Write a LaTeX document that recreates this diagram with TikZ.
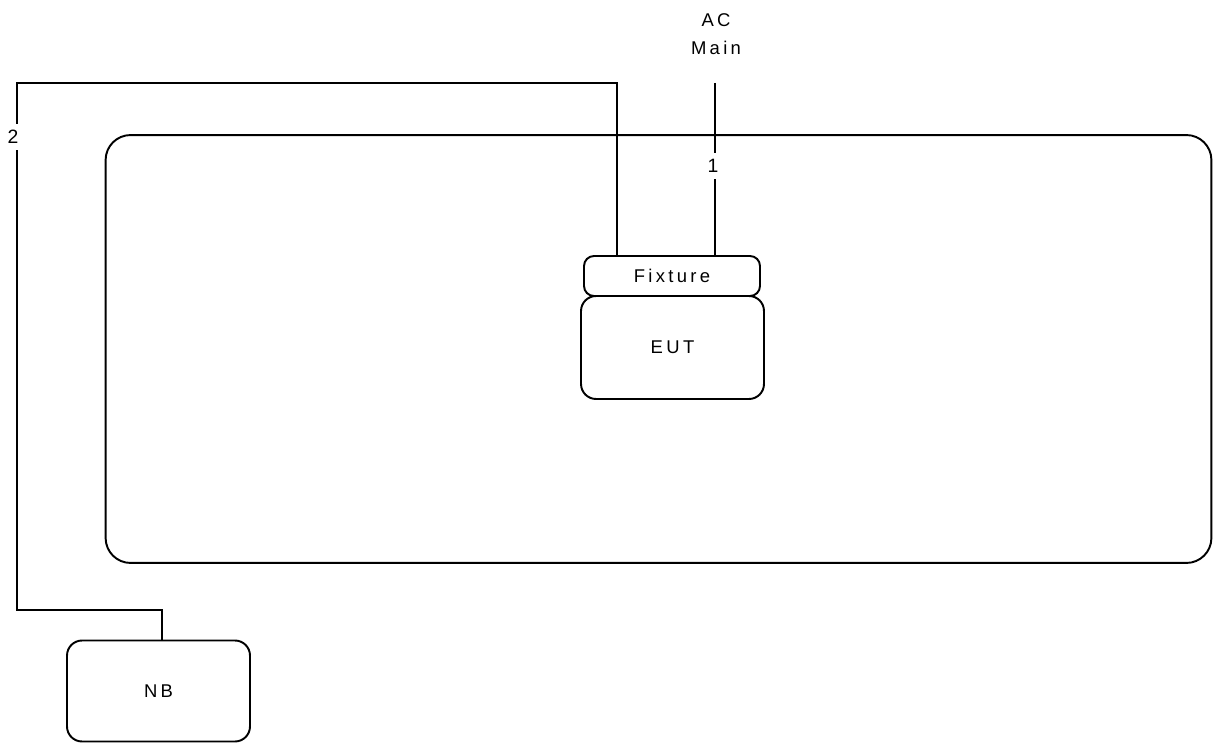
\documentclass[tikz,border=0pt]{standalone}
\usepackage{fontspec}
\setmainfont{Liberation Sans}[LetterSpace=18]
\begin{document}
\begin{tikzpicture}[x=0.02cm, y=-0.02cm, font=\fontsize{10.5}{12}\selectfont,
  unit/.style={draw, line width=1.1pt, rounded corners=#1, inner sep=0pt},
  cable/.style={line width=0.6pt},
  tag/.style={inner sep=3.5pt, font=\fontsize{11}{12}\selectfont}]
\useasboundingbox (0,0) rectangle (1213,743);
\node[unit=0.5cm, minimum width=22.12cm, minimum height=8.56cm] (room) at (658.5,349){};
\node[unit=0.2cm, minimum width=3.52cm, minimum height=0.8cm] (fixture) at (672,276){Fixture};
\node[unit=0.3cm, minimum width=3.66cm, minimum height=2.06cm] (eut) at (672.5,347.5){EUT};
\node[unit=0.3cm, minimum width=3.66cm, minimum height=2.02cm] (nb) at (158.5,691){NB};
\node[align=center, inner sep=0pt] (acmain) at (716,34){AC\\[4pt]Main};
\node[tag] (lbl1) at (713,166){1};
\node[tag] (lbl2) at (13,137){2};
\coordinate (acin) at (715,83);
\coordinate (fix1) at (715,256);
\coordinate (fix2) at (617,256);
\coordinate (bend2) at (17,83);
\coordinate (low2) at (17,610);
\coordinate (nbin) at (162,640);
\draw[cable](acin) -- (lbl1.north -| acin);
\draw[cable](lbl1.south -| acin) -- (fix1);
\draw[cable](fix2) |- (bend2) -- (lbl2.north -| bend2);
\draw[cable](lbl2.south -| bend2) -- (low2) -| (nbin);
\end{tikzpicture}
\end{document}
